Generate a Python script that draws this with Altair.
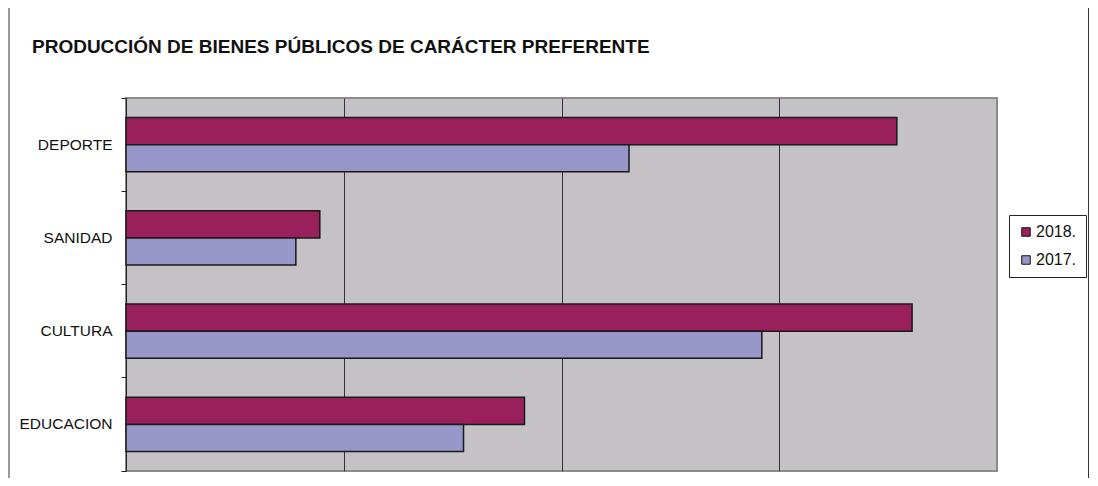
import altair as alt
import pandas as pd

TITLE = "PRODUCCIÓN  DE BIENES PÚBLICOS DE CARÁCTER PREFERENTE"
categories = ["DEPORTE", "SANIDAD", "CULTURA", "EDUCACION"]
years = ["2018.", "2017."]
values_2018 = [354, 89, 361, 183]
values_2017 = [231, 78, 292, 155]
grid_values = [100, 200, 300]
colors = ["#9A1F5D", "#9896C9"]

rows = []
for c, a, b in zip(categories, values_2018, values_2017):
    rows.append({"area": c, "year": years[0], "value": a})
    rows.append({"area": c, "year": years[1], "value": b})
df = pd.DataFrame(rows)

W, H = 871, 373
FONT = "Liberation Sans"

bars = alt.Chart(df).mark_bar(stroke="#1a1a1a", strokeWidth=1.5).encode(
    y=alt.Y(
        "area:N",
        sort=categories,
        scale=alt.Scale(paddingInner=0, paddingOuter=0),
        axis=alt.Axis(
            title=None, labelFontSize=15.5, labelFont=FONT, labelColor="#111",
            tickSize=5, tickColor="#222", domainColor="#222", labelPadding=9,
            bandPosition=1, tickExtra=True,
        ),
    ),
    yOffset=alt.YOffset("year:N", sort=years,
                        scale=alt.Scale(paddingInner=0, paddingOuter=0.72)),
    x=alt.X(
        "value:Q",
        scale=alt.Scale(domain=[0, 400], nice=False),
        axis=alt.Axis(values=grid_values, labels=False, ticks=False, domain=False,
                      title=None, grid=True, gridColor="#333", gridWidth=1),
    ),
    color=alt.Color(
        "year:N", sort=years,
        scale=alt.Scale(domain=years, range=colors),
        legend=alt.Legend(
            title=None, orient="none", legendX=883, legendY=117,
            strokeColor="#222", fillColor="white", padding=9,
            labelFontSize=16, labelFont=FONT, labelColor="#111",
            symbolType="square", symbolSize=72, symbolStrokeColor="#111",
            symbolStrokeWidth=1, rowPadding=12, labelOffset=2,
        ),
    ),
)

title = alt.Chart(pd.DataFrame({"t": [TITLE]})).mark_text(
    align="left", baseline="alphabetic", fontSize=19, fontWeight="bold",
    font=FONT, color="#111",
).encode(text="t:N", x=alt.value(-94), y=alt.value(-45))

frame_df = pd.DataFrame({"k": [0]})
left_line = alt.Chart(frame_df).mark_rule(color="#333", strokeWidth=1).encode(
    x=alt.value(-117), y=alt.value(-91), y2=alt.value(380))
right_line = alt.Chart(frame_df).mark_rule(color="#333", strokeWidth=1).encode(
    x=alt.value(962.5), y=alt.value(-91), y2=alt.value(380))

chart = alt.layer(bars, title, left_line, right_line).properties(
    width=W, height=H,
    autosize=alt.AutoSizeParams(type="none"),
    padding={"left": 118, "top": 90, "right": 93, "bottom": 7},
    background="white",
).configure_view(fill="#C4C2C4", stroke="#8c8c8c", strokeWidth=2)

chart.save("out.html", embed_options={"renderer": "svg", "actions": False})
